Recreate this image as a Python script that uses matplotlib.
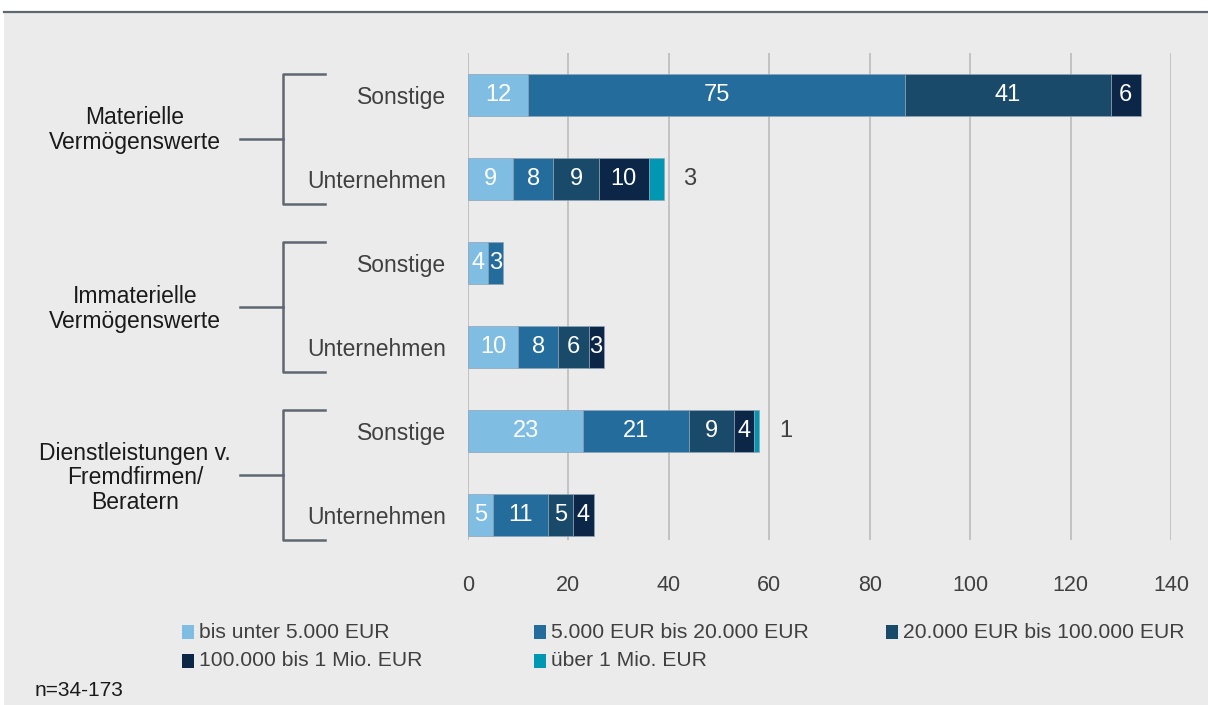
import matplotlib.pyplot as plt
from matplotlib.patches import Rectangle
from matplotlib.lines import Line2D
from matplotlib.transforms import blended_transform_factory

plt.rcParams['font.family'] = ['Liberation Sans', 'DejaVu Sans']

# Daten
kategorien = ["Sonstige", "Unternehmen", "Sonstige", "Unternehmen", "Sonstige", "Unternehmen"]
gruppen = ["Materielle\nVermögenswerte", "Immaterielle\nVermögenswerte",
           "Dienstleistungen v.\nFremdfirmen/\nBeratern"]
serien = ["bis unter 5.000 EUR", "5.000 EUR bis 20.000 EUR", "20.000 EUR bis 100.000 EUR",
          "100.000 bis 1 Mio. EUR", "über 1 Mio. EUR"]
bis_5000 = [12, 9, 4, 10, 23, 5]
von_5000_20000 = [75, 8, 3, 8, 21, 11]
von_20000_100000 = [41, 9, 0, 6, 9, 5]
von_100000_1mio = [6, 10, 0, 3, 4, 4]
ueber_1mio = [0, 3, 0, 0, 1, 0]
werte = [bis_5000, von_5000_20000, von_20000_100000, von_100000_1mio, ueber_1mio]
farben = ["#7fbde3", "#236c9b", "#1a4a69", "#0c2647", "#0097b3"]
xticks = [0, 20, 40, 60, 80, 100, 120, 140]

W, H = 1208, 705
fig = plt.figure(figsize=(W / 100, H / 100), dpi=100, facecolor="#ebebeb")
# weisser Streifen oben + Trennlinie
fig.patches.append(Rectangle((0, 1 - 12 / H), 1, 12 / H, transform=fig.transFigure,
                             facecolor="white", edgecolor="none"))
fig.patches.append(Rectangle((0, 0), 4 / W, 1, transform=fig.transFigure,
                             facecolor="white", edgecolor="none"))
fig.add_artist(Line2D([4 / W, 1], [1 - 12 / H, 1 - 12 / H], transform=fig.transFigure,
                      color="#5f6770", lw=1.6))

ax = fig.add_axes([468 / W, 1 - 540 / H, 703 / W, 487 / H])
ax.set_facecolor("#ebebeb")

y = list(range(len(kategorien)))
links = [0] * len(kategorien)
for s, reihe in enumerate(werte):
    for i, v in enumerate(reihe):
        if v <= 0:
            continue
        ax.barh(y[i], v, left=links[i], height=0.5, color=farben[s],
                edgecolor="#8fa3b5", linewidth=0.5, zorder=3)
        if s == 4:
            ax.text(links[i] + v + 5.2, y[i], str(v), ha="center", va="center",
                    fontsize=17, color="#404040")
        else:
            ax.text(links[i] + v / 2, y[i], str(v), ha="center", va="center",
                    fontsize=17, color="white", zorder=4)
        links[i] += v

ax.set_xlim(0, 140)
ax.set_ylim(5.3, -0.5)
ax.set_xticks(xticks)
ax.set_xticklabels([str(t) for t in xticks], fontsize=15.5, color="#404040")
ax.set_yticks(y)
ax.set_yticklabels(kategorien, fontsize=16.5, color="#404040")
ax.tick_params(length=0, axis="y", pad=16)
ax.tick_params(length=0, axis="x", pad=25)
ax.grid(axis="x", color="#bfbfbf", lw=1.3, zorder=0)
for sp in ax.spines.values():
    sp.set_visible(False)

# Klammern fuer Gruppen
tr = blended_transform_factory(ax.transAxes, ax.transData)
def px(x):
    return (x - 468) / 703
text_y = [0.42, 2.55, 4.56]
for g, name in enumerate(gruppen):
    y0, y1 = 2 * g - 0.25, 2 * g + 1.3
    ym = (y0 + y1) / 2
    kw = dict(transform=tr, color="#5f6770", lw=1.8, clip_on=False)
    ax.plot([px(325), px(283), px(283), px(325)], [y0, y0, y1, y1], **kw)
    ax.plot([px(240), px(283)], [ym, ym], **kw)
    ax.text(px(135), text_y[g], name, transform=tr, ha="center", va="center",
            fontsize=16.5, color="#1a1a1a", linespacing=1.1)

# Legende
for i, name in enumerate(serien):
    col, row = i % 3, i // 3
    x0 = (188 + col * 352) / W
    y0 = 1 - (632 + row * 29) / H
    fig.patches.append(Rectangle((x0 - 6 / W, y0 - 7 / H), 12 / W, 14 / H,
                                 transform=fig.transFigure, facecolor=farben[i],
                                 edgecolor="none"))
    fig.text(x0 + 11 / W, y0, name, ha="left", va="center", fontsize=15.2,
             color="#404040")

fig.text(35 / W, 1 - 690 / H, "n=34-173", ha="left", va="center", fontsize=15,
         color="#1a1a1a")

fig.savefig("out.png", dpi=100, facecolor=fig.get_facecolor())
